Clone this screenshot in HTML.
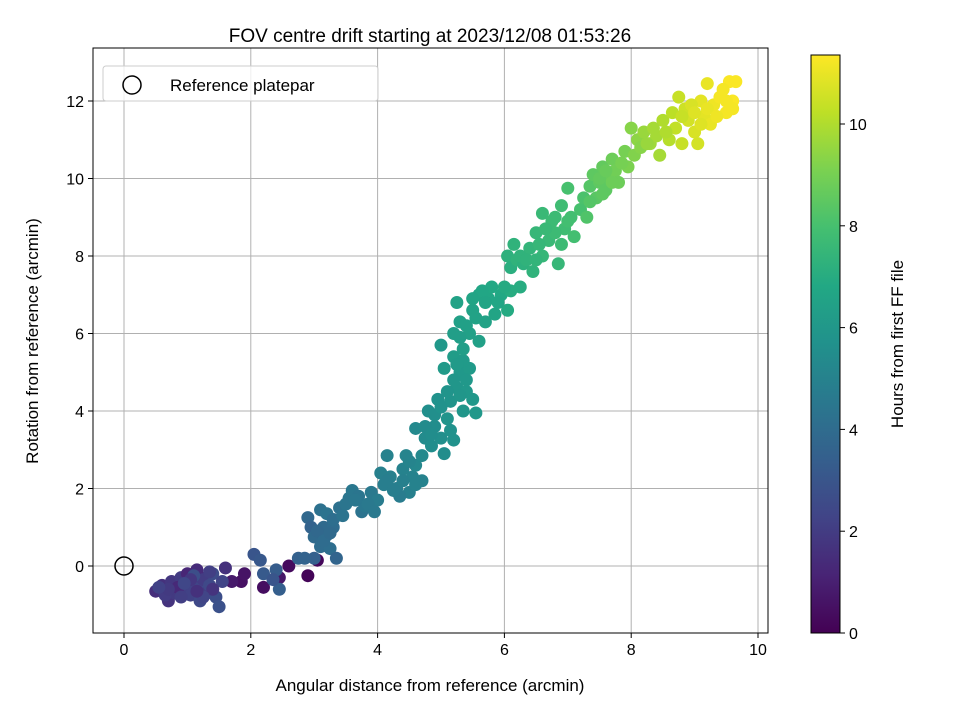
<!DOCTYPE html>
<html><head><meta charset="utf-8"><style>
html,body{margin:0;padding:0;background:#fff;}
svg{display:block;font-family:"Liberation Sans","DejaVu Sans",sans-serif;}
</style></head><body>
<svg id="chart" width="960" height="720" viewBox="0 0 960 720">
<defs>
<linearGradient id="viridis" x1="0" y1="1" x2="0" y2="0">
<stop offset="0" stop-color="#440154"/><stop offset="0.1" stop-color="#482475"/><stop offset="0.2" stop-color="#414487"/><stop offset="0.3" stop-color="#355f8d"/><stop offset="0.4" stop-color="#2a788e"/><stop offset="0.5" stop-color="#21918c"/><stop offset="0.6" stop-color="#22a884"/><stop offset="0.7" stop-color="#44bf70"/><stop offset="0.8" stop-color="#7ad151"/><stop offset="0.9" stop-color="#bddf26"/><stop offset="1" stop-color="#fde725"/>
</linearGradient>
<clipPath id="plotclip"><rect x="93" y="48" width="675" height="585"/></clipPath>
</defs>
<text x="430" y="42" text-anchor="middle" font-size="19">FOV centre drift starting at 2023/12/08 01:53:26</text>
<g id="grid"></g>
<g id="points" clip-path="url(#plotclip)"></g>
<circle id="refmark" r="9" fill="none" stroke="#000" stroke-width="1.5"/>
<rect x="93" y="48" width="675" height="585" fill="none" stroke="#000" stroke-width="1"/>
<g id="xticks"></g>
<g id="yticks"></g>
<text x="430" y="691" text-anchor="middle" font-size="17">Angular distance from reference (arcmin)</text>
<text transform="translate(38,341) rotate(-90)" text-anchor="middle" font-size="17">Rotation from reference (arcmin)</text>
<g>
<rect x="103" y="66" width="275" height="35" rx="3" fill="#fff" fill-opacity="0.8" stroke="#ccc"/>
<circle cx="132" cy="85" r="9" fill="none" stroke="#000" stroke-width="1.5"/>
<text x="170" y="91" font-size="17">Reference platepar</text>
</g>
<rect x="811" y="55" width="29" height="578" fill="url(#viridis)" stroke="#000" stroke-width="1"/>
<g id="cticks"></g>
<text transform="translate(903,344) rotate(-90)" text-anchor="middle" font-size="17">Hours from first FF file</text>
</svg>
<script>
const xTicks=[0,2,4,6,8,10];
const yTicks=[0,2,4,6,8,10,12];
const cTicks=[0,2,4,6,8,10];
const hourMax=11.35;
// [x arcmin, y arcmin, hours]
const driftPoints=[
[2.9,-0.25,0.1],[3.05,0.15,0.2],[2.6,0.0,0.3],[2.2,-0.55,0.4],[1.85,-0.4,0.5],[1.9,-0.2,0.6],[1.7,-0.4,0.8],[1.3,-0.3,0.9],[2.45,-0.3,0.7],
[0.5,-0.65,1.5],[0.6,-0.5,1.6],[0.7,-0.9,1.7],[0.75,-0.4,1.8],[0.8,-0.7,1.9],[0.9,-0.3,2.0],[0.95,-0.6,2.1],[1.0,-0.2,1.2],[1.05,-0.75,2.2],[1.1,-0.5,2.3],[1.15,-0.1,1.4],[1.2,-0.6,2.4],[1.25,-0.35,2.0],[1.3,-0.7,1.9],[1.35,-0.5,2.5],[1.4,-0.2,2.6],[1.45,-0.8,2.7],[1.5,-1.05,2.8],[1.55,-0.4,2.3],[1.6,-0.05,1.6],[0.85,-0.55,1.3],[1.0,-0.45,2.2],[1.2,-0.9,2.5],[1.4,-0.6,1.7],[0.65,-0.75,2.0],[1.1,-0.25,2.7],
[0.7,-0.6,1.9],[0.9,-0.8,2.1],[1.05,-0.35,1.8],[1.25,-0.8,2.3],[1.35,-0.15,2.1],[0.55,-0.55,2.2],[1.15,-0.65,1.6],[0.95,-0.45,2.4],
[2.05,0.3,3.0],[2.15,0.15,3.1],[2.2,-0.2,3.2],[2.4,-0.1,3.3],[2.45,-0.6,3.4],[2.35,-0.35,3.0],[2.75,0.2,3.5],[2.9,1.25,3.8],[2.95,1.0,3.6],[3.0,0.2,3.5],[3.0,0.75,3.9],[3.1,0.5,4.0],[3.15,1.0,3.9],[3.2,0.8,4.0],[3.25,0.45,4.1],[3.1,1.45,4.2],[3.3,1.0,4.0],[3.35,0.2,3.7],[3.2,1.35,4.3],[3.4,1.5,4.2],
[2.85,0.2,3.6],[3.05,0.9,3.8],[3.15,0.65,4.0],[3.3,1.2,4.1],[3.25,0.85,3.9],
[3.45,1.3,4.3],[3.55,1.75,4.4],[3.6,1.95,4.5],[3.7,1.8,4.4],[3.75,1.4,4.3],[3.8,1.55,4.5],[3.9,1.9,4.6],[4.0,1.7,4.7],[4.1,2.1,4.8],[4.2,2.3,4.9],[4.15,2.85,5.0],[4.3,2.0,4.8],[4.4,2.5,5.0],[4.45,2.85,5.1],[4.5,1.9,4.9],[4.55,2.3,5.0],[4.6,2.6,5.2],[4.7,2.2,5.0],[4.35,1.8,4.7],[4.05,2.4,4.9],
[3.5,1.6,4.4],[3.65,1.7,4.5],[3.85,1.6,4.6],[3.95,1.4,4.6],[4.25,1.95,4.8],[4.4,2.2,4.9],[4.6,2.1,5.0],[4.15,2.2,4.8],[4.5,2.7,5.1],
[4.7,2.85,5.3],[4.75,3.3,5.4],[4.6,3.55,5.3],[4.85,3.1,5.5],[4.9,3.6,5.5],[4.8,4.0,5.6],[5.0,3.3,5.6],[4.95,4.3,5.7],[5.05,2.9,5.5],[5.1,3.8,5.8],[5.15,4.25,5.8],[5.2,3.25,5.7],[5.0,5.7,6.0],[5.25,4.6,5.9],[5.3,5.0,6.0],[5.35,4.0,5.9],[5.4,4.5,6.0],[5.45,5.1,6.1],[5.5,4.3,6.0],[5.55,3.95,6.0],[5.2,5.4,6.2],[5.05,5.1,6.1],
[4.75,3.6,5.4],[4.9,3.9,5.6],[5.0,4.1,5.7],[5.1,4.5,5.8],[5.2,4.8,5.9],[5.3,4.4,5.9],[5.35,5.3,6.1],[5.15,3.5,5.7],[4.85,3.4,5.5],[5.25,5.2,6.1],[5.4,4.8,6.0],
[5.2,6.0,6.3],[5.25,6.8,6.5],[5.35,5.6,6.3],[5.4,6.2,6.4],[5.5,6.6,6.5],[5.6,5.8,6.4],[5.6,7.0,6.6],[5.7,6.3,6.5],[5.75,6.9,6.7],[5.8,7.2,6.8],[5.85,6.5,6.6],[5.95,7.0,6.8],[6.05,6.6,6.9],[6.1,7.1,7.0],[6.25,7.2,7.0],[5.65,7.1,6.7],
[5.3,6.3,6.4],[5.45,6.0,6.4],[5.55,6.4,6.5],[5.7,6.8,6.6],[5.9,6.8,6.7],[6.0,7.2,6.9],[5.5,6.9,6.6],[5.3,5.9,6.3],
[6.05,8.0,7.2],[6.15,8.3,7.3],[6.1,7.7,7.1],[6.2,7.9,7.3],[6.3,7.8,7.2],[6.4,8.2,7.4],[6.45,7.6,7.3],[6.5,8.6,7.5],[6.6,9.1,7.6],[6.6,8.0,7.5],[6.7,8.4,7.6],[6.75,8.9,7.7],[6.85,7.8,7.5],[6.9,9.3,7.8],[6.95,8.7,7.8],[7.0,9.75,8.0],[7.05,9.0,7.9],[7.1,8.5,7.9],[7.2,9.2,8.0],[6.8,8.6,7.7],
[6.25,8.0,7.3],[6.35,7.9,7.3],[6.55,8.3,7.5],[6.65,8.7,7.6],[6.8,9.0,7.7],[7.0,8.9,7.9],[6.5,7.9,7.4],[6.9,8.3,7.7],
[7.25,9.5,8.1],[7.3,9.0,8.2],[7.35,9.8,8.3],[7.4,10.1,8.5],[7.45,9.5,8.4],[7.55,10.3,8.6],[7.6,9.7,8.5],[7.65,10.0,8.7],[7.7,10.5,8.8],[7.75,10.2,8.9],[7.8,9.9,8.8],[7.9,10.7,9.0],[7.95,10.3,9.1],[8.0,11.3,9.3],[8.1,11.0,9.4],[8.05,10.6,9.2],[7.5,9.9,8.5],
[7.35,9.4,8.3],[7.5,10.0,8.6],[7.6,10.2,8.7],[7.7,9.9,8.8],[7.85,10.4,9.0],[8.15,10.8,9.3],[7.55,9.6,8.5],
[8.2,11.2,9.6],[8.3,10.9,9.7],[8.4,11.1,9.8],[8.45,10.6,9.8],[8.5,11.5,10.0],[8.6,11.0,10.1],[8.65,11.7,10.2],[8.7,11.3,10.3],[8.8,10.9,10.4],[8.85,11.8,10.5],[8.9,11.5,10.6],[9.0,11.2,10.7],[9.05,10.9,10.6],[9.1,12.0,10.9],[9.15,11.6,10.9],[9.2,12.45,11.0],[9.25,11.4,11.0],[9.3,11.9,11.1],[9.4,12.1,11.2],[9.5,11.7,11.2],[9.55,12.5,11.3],[9.6,12.0,11.3],[9.65,12.5,11.3],[9.6,11.8,11.2],[8.75,12.1,10.4],[9.45,12.3,11.2],
[8.35,11.3,9.8],[8.55,11.2,10.0],[8.8,11.6,10.4],[8.95,11.9,10.7],[9.1,11.4,10.8],[9.2,11.8,11.0],[9.35,11.6,11.1],[9.5,12.0,11.2],[8.25,10.9,9.6],[9.0,11.7,10.8]
];
const NS='http://www.w3.org/2000/svg';
const X=v=>124+v*63.4;
const Y=v=>566-v*38.75;
const C=v=>633-v*50.9;
const stops=[[68,1,84],[72,36,117],[65,68,135],[53,95,141],[42,120,142],[33,145,140],[34,168,132],[68,191,112],[122,209,81],[189,223,38],[253,231,37]];
function viridis(f){f=Math.max(0,Math.min(1,f))*10;const i=Math.min(9,Math.floor(f)),r=f-i;const a=stops[i],b=stops[i+1];
return 'rgb('+a.map((c,k)=>Math.round(c+(b[k]-c)*r)).join(',')+')';}
function mk(tag,attrs,parent){const e=document.createElementNS(NS,tag);for(const k in attrs)e.setAttribute(k,attrs[k]);parent.appendChild(e);return e;}
const grid=document.getElementById('grid'),xt=document.getElementById('xticks'),yt=document.getElementById('yticks'),ct=document.getElementById('cticks'),pts=document.getElementById('points');
xTicks.forEach(v=>{
 const g=mk('line',{x1:X(v),x2:X(v),y1:48,y2:633,stroke:'#b0b0b0','stroke-width':1},grid);
 
 
 const t=mk('line',{x1:X(v),x2:X(v),y1:633,y2:638,stroke:'#000'},xt);
 
 
 const l=mk('text',{x:X(v),y:655,'text-anchor':'middle','font-size':16},xt);l.textContent=v;
 
 
});
yTicks.forEach(v=>{
 const g=mk('line',{x1:93,x2:768,y1:Y(v),y2:Y(v),stroke:'#b0b0b0','stroke-width':1},grid);
 
 
 const t=mk('line',{x1:88,x2:93,y1:Y(v),y2:Y(v),stroke:'#000'},yt);
 
 
 const l=mk('text',{x:84,y:Y(v)+6,'text-anchor':'end','font-size':16},yt);l.textContent=v;
 
 
});
cTicks.forEach(v=>{
 const t=mk('line',{x1:840,x2:845,y1:C(v),y2:C(v),stroke:'#000'},ct);
 
 
 const l=mk('text',{x:849,y:C(v)+6,'font-size':16},ct);l.textContent=v;
 
 
});
driftPoints.forEach(p=>{
 const c=mk('circle',{cx:X(p[0]),cy:Y(p[1]),r:6.5,fill:viridis(p[2]/hourMax)},pts);
 
 
});
const ref=document.getElementById('refmark');ref.setAttribute('cx',X(0));ref.setAttribute('cy',Y(0));
</script>
</body></html>
